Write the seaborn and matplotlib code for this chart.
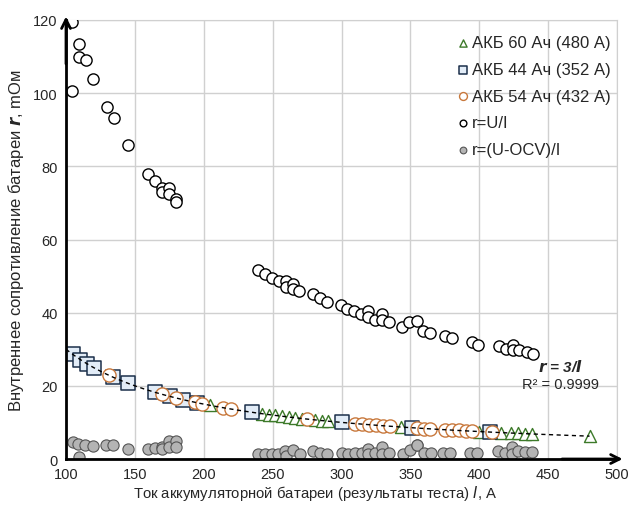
import numpy as np
import pandas as pd
import matplotlib
matplotlib.use("Agg")
import matplotlib.pyplot as plt
import seaborn as sns

# r = U/I, open circles
ui_I = [104, 104, 109.5, 109.5, 114.5, 119.5, 130, 135, 145, 159.8, 164.6, 169.5, 169.5, 175, 175, 180, 180,
        239.6, 244.5, 249.3, 254.6, 259.7, 259.7, 265, 265, 269.4, 279.5, 284.4, 289.2, 299.4, 304.2, 309,
        313.9, 319.4, 319.4, 324.3, 329.2, 329.2, 334.4, 344, 349.2, 354.5, 359.4, 364.2, 375.1, 380,
        394.5, 399.3, 414.6, 419.4, 424.3, 424.3, 429.1, 434.4, 439.3]
ui_r = [119.5, 100.5, 113.5, 110, 109, 104, 96.3, 93.2, 85.7, 78, 76, 74.2, 73, 74, 72.5, 71, 70.2,
        51.6, 50.7, 49.6, 48.7, 48.7, 47, 47.8, 46.6, 45.9, 45.2, 44, 42.9, 42, 41.1, 40.4,
        39.6, 40.4, 38.7, 38.1, 39.7, 38.1, 37.4, 36, 37.4, 37.6, 34.9, 34.5, 33.6, 33,
        32.1, 31.2, 30.9, 30.1, 31.2, 29.7, 29.7, 29.2, 28.8]

# r = (U-OCV)/I, grey filled circles
ocv_I = [104.9, 108.9, 109.7, 113.8, 119.4, 129, 134.4, 145.3, 159.8, 164.6, 169.5, 169.5, 175, 175, 179.9, 179.9,
         239.6, 244.5, 249.3, 254.1, 259, 260, 265, 270, 279.5, 284.4, 289.6, 300, 305, 310, 314.5,
         319.4, 319.4, 324.3, 329.2, 329.2, 334.4, 344.3, 349.7, 354.5, 355, 359.9, 364.7, 373.9, 378.8,
         393.3, 398.1, 413.8, 418.7, 423.5, 423.5, 428.3, 433.2, 438]
ocv_r = [4.7, 4.1, 0.5, 3.8, 3.5, 3.7, 3.8, 2.7, 2.7, 2.9, 3.2, 2.6, 5.0, 3.2, 5.0, 3.2,
         1.4, 1.4, 1.4, 1.4, 2.3, 0.9, 2.5, 1.4, 2.3, 1.6, 1.4, 1.6, 1.4, 1.6, 1.6,
         2.7, 1.4, 1.6, 3.2, 1.4, 1.6, 1.4, 2.4, 3.7, 3.8, 1.6, 1.6, 1.6, 1.6,
         1.6, 1.6, 2.3, 1.6, 3.2, 1.4, 2.3, 1.8, 1.8]

# battery 44 Ah (352 A), squares
b44_I = [105, 110.5, 115, 120, 134, 145, 164.5, 175.5, 185, 195, 235, 300, 351, 408]
b44_r = [28.6, 27.1, 26.1, 25.0, 22.4, 20.7, 18.2, 17.1, 16.2, 15.4, 12.8, 10.0, 8.5, 7.4]

# battery 54 Ah (432 A), circles
b54_I = [131, 169.5, 180, 193.5, 199, 214, 219.5, 275, 309.5, 315, 320, 325, 330, 335,
         354.5, 359.5, 364.5, 375, 380, 385, 390, 394.5, 409.5]
b54_r = [22.9, 17.7, 16.7, 15.5, 15.1, 14.0, 13.7, 10.9, 9.7, 9.5, 9.4, 9.2, 9.1, 9.0,
         8.5, 8.3, 8.2, 8.0, 7.9, 7.8, 7.7, 7.6, 7.3]

# battery 60 Ah (480 A), triangles
b60_I = [204.5, 242, 247, 252, 257, 262, 266.5, 271.5, 281, 285.5, 290.5, 343, 399.5,
         415.5, 423, 428, 433, 438, 480]
b60_r = [14.7, 12.4, 12.1, 11.9, 11.7, 11.5, 11.3, 11.0, 10.7, 10.5, 10.3, 8.7, 7.5,
         7.2, 7.1, 7.0, 6.9, 6.8, 6.25]

fit_k = 3.0  # r = 3/I (Ohm), plotted in mOhm

sns.set_style("white")
plt.rcParams['font.family'] = ['Liberation Sans', 'DejaVu Sans']

fig = plt.figure(figsize=(6.31, 5.06), dpi=100)
ax = fig.add_axes([0.1046, 0.0909, 0.8734, 0.8676])

sns.scatterplot(x=b60_I, y=b60_r, ax=ax, marker='^', s=75, facecolor='white',
                edgecolor='#3d7a2a', linewidth=1.0, label='АКБ 60 Ач (480 А)', zorder=3)
sns.scatterplot(x=b44_I, y=b44_r, ax=ax, marker='s', s=90, facecolor='#e2ecf7',
                edgecolor='#1b2f4a', linewidth=1.1, label='АКБ 44 Ач (352 А)', zorder=3)
sns.scatterplot(x=b54_I, y=b54_r, ax=ax, marker='o', s=90, facecolor='white',
                edgecolor='#c8783c', linewidth=1.0, label='АКБ 54 Ач (432 А)', zorder=3)
sns.scatterplot(x=ui_I, y=ui_r, ax=ax, marker='o', s=65, facecolor='white',
                edgecolor='black', linewidth=1.0, label='r=U/I', zorder=3)
sns.scatterplot(x=ocv_I, y=ocv_r, ax=ax, marker='o', s=65, facecolor='#b4b4b4',
                edgecolor='#555555', linewidth=0.8, label='r=(U-OCV)/I', zorder=3)

fit_x = np.linspace(100, 480, 200)
ax.plot(fit_x, fit_k / fit_x * 1000, ls=(0, (3, 2.5)), color='black', lw=1.0, zorder=4)

ax.set_xlim(100, 500)
ax.set_ylim(0, 120)
ax.set_xticks(range(100, 501, 50))
ax.set_yticks(range(0, 121, 20))
ax.grid(True, color='#d0d0d0', lw=1.0)
ax.tick_params(axis='both', length=0, labelsize=10.5, pad=6)

for s in ['top', 'right']:
    ax.spines[s].set_color('#d0d0d0')
for s in ['left', 'bottom']:
    ax.spines[s].set_color('black')
    ax.spines[s].set_linewidth(2.0)
    ax.spines[s].set_zorder(5)

# arrow heads on the axes
ax.annotate('', xy=(0, 1.008), xytext=(0, 0.9), xycoords='axes fraction',
            annotation_clip=False, zorder=6,
            arrowprops=dict(arrowstyle='->', lw=2.0, color='black', mutation_scale=16,
                            shrinkA=0, shrinkB=0))
ax.annotate('', xy=(1.01, 0), xytext=(0.9, 0), xycoords='axes fraction',
            annotation_clip=False, zorder=6,
            arrowprops=dict(arrowstyle='->', lw=2.0, color='black', mutation_scale=16,
                            shrinkA=0, shrinkB=0))

ax.set_xlabel('Ток аккумуляторной батареи (результаты теста) $\\mathit{I}$, А', fontsize=10.7)
ax.xaxis.set_label_coords(0.452, -0.055)
ax.set_ylabel('Внутреннее сопротивление батареи $\\boldsymbol{r}$, mОм', fontsize=12, labelpad=5)

ax.text(0.897, 0.212, '$\\boldsymbol{r}$ = 3/$\\boldsymbol{I}$', transform=ax.transAxes, ha='center',
        va='center', fontsize=11, fontweight='bold', style='italic')
ax.text(0.897, 0.171, 'R² = 0.9999', transform=ax.transAxes, ha='center', va='center', fontsize=10.5)

leg = ax.legend(loc='upper right', frameon=False, fontsize=12, handletextpad=0.0,
                borderaxespad=0.0, labelspacing=0.7, markerscale=0.6, handlelength=1.0,
                bbox_to_anchor=(1.0, 0.98))

fig.savefig('out.png', dpi=100)
